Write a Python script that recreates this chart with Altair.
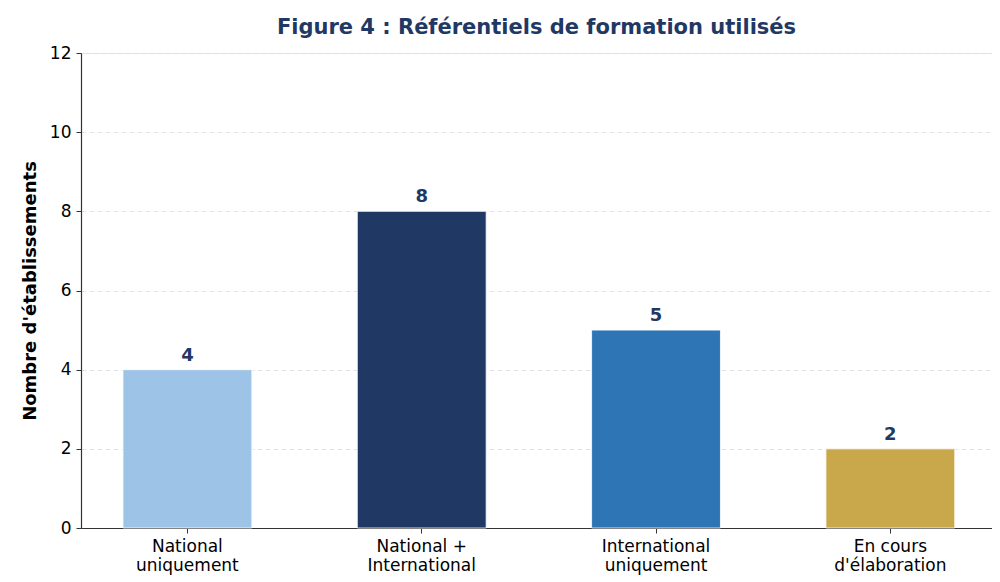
import altair as alt
import pandas as pd

categories = ["National|uniquement", "National +|International", "International|uniquement", "En cours|d'élaboration"]
values = [4, 8, 5, 2]
colors = ["#9DC3E6", "#1F3864", "#2E75B6", "#C9A84C"]
y_ticks = [0, 2, 4, 6, 8, 10, 12]

df = pd.DataFrame({"cat": categories, "val": values, "color": colors})

FONT = "DejaVu Sans"
NAVY = "#1F3864"

x_scale = alt.Scale(paddingInner=0.45, paddingOuter=0.169, align=0.53)

x_enc = alt.X(
    "cat:N",
    sort=categories,
    scale=x_scale,
    axis=alt.Axis(
        title=None,
        labelAngle=0,
        labelExpr="split(datum.label, '|')",
        labelFont=FONT,
        labelFontSize=17,
        labelColor="#000000",
        labelLineHeight=19,
        labelPadding=5,
        labelBaseline="top",
        domainColor="#333333",
        domainWidth=1.2,
        tickColor="#333333",
        tickSize=5,
        grid=False,
    ),
)

bars = alt.Chart(df).mark_bar(stroke="white", strokeWidth=0.8).encode(
    x=x_enc,
    y=alt.Y(
        "val:Q",
        scale=alt.Scale(domain=[0, 12], nice=False),
        axis=alt.Axis(
            title="Nombre d'établissements",
            titleFont=FONT,
            titleFontSize=18,
            titleFontWeight="bold",
            titleColor="#000000",
            titlePadding=10,
            values=y_ticks,
            labelFont=FONT,
            labelFontSize=17,
            labelColor="#000000",
            labelPadding=5,
            domainColor="#333333",
            domainWidth=1.2,
            tickColor="#333333",
            tickSize=5,
            grid=True,
            gridColor="#E1E4E8",
            gridDash=[5, 3],
            gridWidth=1,
        ),
    ),
    color=alt.Color("color:N", scale=None, legend=None),
)

labels = alt.Chart(df).mark_text(
    baseline="bottom", dy=-5, font=FONT, fontSize=18, fontWeight="bold", color=NAVY
).encode(
    x=alt.X("cat:N", sort=categories),
    y=alt.Y("val:Q"),
    text=alt.Text("val:Q"),
)

chart = (
    alt.layer(bars, labels)
    .properties(
        width=911,
        height=475,
        title=alt.TitleParams(
            "Figure 4 : Référentiels de formation utilisés",
            font=FONT,
            fontSize=21,
            fontWeight="bold",
            color=NAVY,
            anchor="middle",
            offset=6,
        ),
        autosize=alt.AutoSizeParams(type="none"),
        padding={"left": 73, "top": 45, "right": 0, "bottom": 50},
    )
    .configure_view(stroke=None)
    .configure(background="white")
)

chart.save("out.html", embed_options={"renderer": "svg", "actions": False})
